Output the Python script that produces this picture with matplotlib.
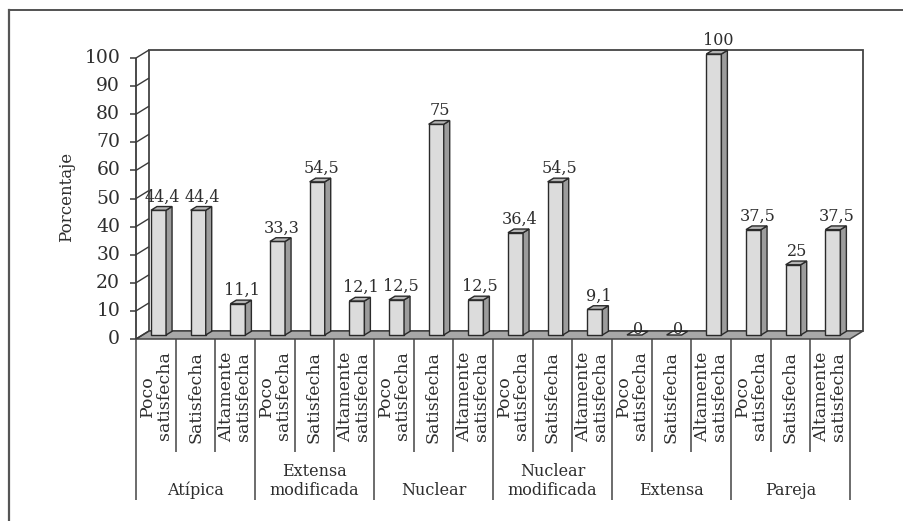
import matplotlib
matplotlib.use("Agg")
import matplotlib.pyplot as plt
from matplotlib.patches import Polygon
from matplotlib.lines import Line2D

# Data: satisfaction levels within each family type (percent)
groups = ["Atípica", "Extensa\nmodificada", "Nuclear", "Nuclear\nmodificada", "Extensa", "Pareja"]
levels = ["Poco\nsatisfecha", "Satisfecha", "Altamente\nsatisfecha"]
values = [
    [44.4, 44.4, 11.1],
    [33.3, 54.5, 12.1],
    [12.5, 75.0, 12.5],
    [36.4, 54.5, 9.1],
    [0.0, 0.0, 100.0],
    [37.5, 25.0, 37.5],
]
value_labels = [
    ["44,4", "44,4", "11,1"],
    ["33,3", "54,5", "12,1"],
    ["12,5", "75", "12,5"],
    ["36,4", "54,5", "9,1"],
    ["0", "0", "100"],
    ["37,5", "25", "37,5"],
]
y_ticks = list(range(0, 101, 10))
y_label = "Porcentaje"

plt.rcParams["font.family"] = ["DejaVu Serif"]
TXT = "#2e2e2e"
EDGE = "#2a2a2a"

W, H = 904, 521
fig = plt.figure(figsize=(W / 100, H / 100), dpi=100)
ax = fig.add_axes([136 / W, (H - 339) / H, 714 / W, 281 / H])
n_cat = len(groups) * len(levels)
ax.set_xlim(0, n_cat)
ax.set_ylim(0, 100)
ax.axis("off")

# depth offset of the pseudo-3D box, in data units
ddx, ddy = 0.328, 2.85

def poly(pts, fc, ec=EDGE, lw=1.0, z=2):
    ax.add_patch(Polygon(pts, closed=True, facecolor=fc, edgecolor=ec,
                         linewidth=lw, zorder=z, clip_on=False, joinstyle="miter"))

def line(xs, ys, color="#3a3a3a", lw=1.2, z=3):
    ax.add_line(Line2D(xs, ys, color=color, linewidth=lw, zorder=z,
                       clip_on=False, solid_capstyle="butt"))

# back wall
poly([(ddx, ddy), (n_cat + ddx, ddy), (n_cat + ddx, 100 + ddy), (ddx, 100 + ddy)],
     "white", ec="#444444", lw=1.3, z=1)
# floor
poly([(0, 0), (n_cat, 0), (n_cat + ddx, ddy), (ddx, ddy)], "#a8a8a8", ec="#444444", lw=1.1, z=1.5)

# value axis with ticks and side-wall gridlines
line([0, 0], [0, 100], lw=1.3)
for v in y_ticks:
    line([-6 / 39.667, 0], [v, v], lw=1.1)
    line([0, ddx], [v, v + ddy], lw=1.0)
    ax.text(-0.40, v, str(v), ha="right", va="center", fontsize=13.5, color=TXT)

# bars
w = 0.38
off = 0.214
sdx, sdy = 0.46 * ddx, 0.46 * ddy
for g, vals in enumerate(values):
    for j, v in enumerate(vals):
        i = g * len(levels) + j
        x0 = i + off + 0.5 * ddx
        x1 = x0 + w
        yb = 0.5 * ddy
        yt = v + yb
        if v > 0:
            poly([(x0, yb), (x1, yb), (x1, yt), (x0, yt)], "#dcdcdc", z=3)
            poly([(x1, yb), (x1 + sdx, yb + sdy), (x1 + sdx, yt + sdy), (x1, yt)], "#9c9c9c", z=3)
            poly([(x0, yt), (x1, yt), (x1 + sdx, yt + sdy), (x0 + sdx, yt + sdy)], "#b4b4b4", z=3)
            ty = yt + sdy + 0.4
        else:
            poly([(x0, yt), (x1, yt), (x1 + sdx, yt + sdy), (x0 + sdx, yt + sdy)], "#ececec", z=3)
            ty = yt - 1.0
        ax.text(x0 + w / 2 + 0.1, ty, value_labels[g][j], ha="center", va="bottom",
                fontsize=11.5, color=TXT, zorder=5, clip_on=False)

# category separators and labels below the floor
for k in range(n_cat + 1):
    bottom = -57.3 if k % len(levels) == 0 else -40.2
    line([k, k], [0, bottom], color="#444444", lw=1.1)
for i in range(n_cat):
    ax.text(i + 0.5, -4.4, levels[i % len(levels)], rotation=90, ha="center", va="top",
            multialignment="center", fontsize=12.5, color=TXT, linespacing=0.95, clip_on=False)
for g, name in enumerate(groups):
    ax.text(g * len(levels) + 1.5, -56.8, name, ha="center", va="bottom",
            multialignment="center", fontsize=11.5, color=TXT, linespacing=1.1, clip_on=False)

fig.text(66.5 / W, 1 - 196.5 / H, y_label, rotation=90, ha="center", va="center",
         fontsize=12, color=TXT)

# outer frame (top and left edges)
fig.add_artist(Line2D([9 / W, 1], [1 - 10 / H, 1 - 10 / H], transform=fig.transFigure,
                      color="#444444", linewidth=1.3))
fig.add_artist(Line2D([9 / W, 9 / W], [0, 1 - 10 / H], transform=fig.transFigure,
                      color="#555555", linewidth=1.6))

fig.savefig("out.png", dpi=100)
